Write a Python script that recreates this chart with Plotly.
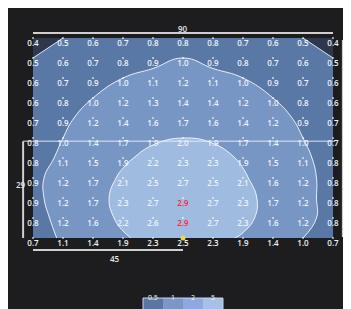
import numpy as np
import plotly.graph_objects as go

# Measurement grid (metres) and illuminance values (rows from top y=60 to bottom y=0)
grid_x = [0, 9, 18, 27, 36, 45, 54, 63, 72, 81, 90]
grid_y = [60, 54, 48, 42, 36, 30, 24, 18, 12, 6, 0]
lux = [
    [0.4, 0.5, 0.6, 0.7, 0.8, 0.8, 0.8, 0.7, 0.6, 0.5, 0.4],
    [0.5, 0.6, 0.7, 0.8, 0.9, 1.0, 0.9, 0.8, 0.7, 0.6, 0.5],
    [0.6, 0.7, 0.9, 1.0, 1.1, 1.2, 1.1, 1.0, 0.9, 0.7, 0.6],
    [0.6, 0.8, 1.0, 1.2, 1.3, 1.4, 1.4, 1.2, 1.0, 0.8, 0.6],
    [0.7, 0.9, 1.2, 1.4, 1.6, 1.7, 1.6, 1.4, 1.2, 0.9, 0.7],
    [0.8, 1.0, 1.4, 1.7, 1.9, 2.0, 1.9, 1.7, 1.4, 1.0, 0.7],
    [0.8, 1.1, 1.5, 1.9, 2.2, 2.3, 2.3, 1.9, 1.5, 1.1, 0.8],
    [0.9, 1.2, 1.7, 2.1, 2.5, 2.7, 2.5, 2.1, 1.6, 1.2, 0.8],
    [0.9, 1.2, 1.7, 2.3, 2.7, 2.9, 2.7, 2.3, 1.7, 1.2, 0.8],
    [0.8, 1.2, 1.6, 2.2, 2.6, 2.9, 2.7, 2.3, 1.6, 1.2, 0.8],
    [0.7, 1.1, 1.4, 1.9, 2.3, 2.5, 2.3, 1.9, 1.4, 1.0, 0.7],
]
contour_levels = [0.5, 1, 2]
legend_labels = ["0.5", "1", "2", "5"]
band_colors = ["#2d384c", "#5a78a6", "#7896c4", "#a0bbe0"]
legend_colors = ["#5a76a2", "#7a97c6", "#8caae0", "#a6c0ea"]

# dimension annotations
width_m = 90
depth_m = 60
mark_y = 29
mark_x = 45

z = np.array(lux)
zlog = np.log2(z)
lv = np.log2(contour_levels)

fig = go.Figure()
fig.add_trace(go.Contour(
    x=grid_x, y=grid_y, z=zlog,
    contours=dict(start=lv[0], end=lv[-1], size=lv[1] - lv[0],
                  coloring="fill", showlines=True),
    colorscale=[[0, band_colors[0]], [1/3, band_colors[1]],
                [2/3, band_colors[2]], [1, band_colors[3]]],
    line=dict(color="rgba(255,255,255,0.85)", width=1, smoothing=1.3),
    showscale=False, hoverinfo="skip",
))

zmax = z.max()
xs, ys, txt, cols = [], [], [], []
for i, yy in enumerate(grid_y):
    for j, xx in enumerate(grid_x):
        xs.append(xx); ys.append(yy)
        txt.append(f"{lux[i][j]:.1f}")
        cols.append("#ff2436" if lux[i][j] == zmax else "#eef3fb")

fig.add_trace(go.Scatter(
    x=xs, y=ys, mode="markers+text", text=txt,
    textposition="bottom center",
    textfont=dict(color=cols, size=8, family="Open Sans", weight=600),
    marker=dict(size=2, color="rgba(255,255,255,0.7)"),
    cliponaxis=False, hoverinfo="skip", showlegend=False,
))

fig.add_trace(go.Scatter(
    x=[mark_x], y=[0], mode="markers",
    marker=dict(size=5, color="#e8d84a"),
    cliponaxis=False, hoverinfo="skip", showlegend=False,
))

shapes = []
annos = []
dim_col = "#cfcfcf"
dim_font = dict(color="#e8e8e8", size=8, family="Open Sans", weight=600)
# horizontal marker line at y=29
shapes.append(dict(type="line", xref="paper", yref="paper",
                   x0=-0.033, x1=1.007, y0=mark_y / depth_m, y1=mark_y / depth_m,
                   line=dict(color="rgba(235,240,250,0.6)", width=1.5)))
# top dimension (90)
shapes.append(dict(type="line", xref="paper", yref="paper",
                   x0=0, x1=1, y0=1.025, y1=1.025, line=dict(color=dim_col, width=2)))
annos.append(dict(x=0.5, y=1.025, xref="paper", yref="paper", text=str(width_m),
                  showarrow=False, yanchor="bottom", yshift=-3, font=dim_font))
# right dimension (60)
shapes.append(dict(type="line", xref="paper", yref="paper",
                   x0=1.033, x1=1.033, y0=0.005, y1=0.99, line=dict(color=dim_col, width=2)))
annos.append(dict(x=1.045, y=0.48, xref="paper", yref="paper", text=str(depth_m),
                  showarrow=False, xanchor="left", font=dim_font))
# left dimension (29)
shapes.append(dict(type="line", xref="paper", yref="paper",
                   x0=-0.033, x1=-0.033, y0=0, y1=mark_y / depth_m,
                   line=dict(color=dim_col, width=2)))
annos.append(dict(x=-0.062, y=0.23, xref="paper", yref="paper", text=str(mark_y),
                  showarrow=False, font=dim_font))
# bottom dimension (45)
shapes.append(dict(type="line", xref="paper", yref="paper",
                   x0=0, x1=mark_x / width_m, y0=-0.06, y1=-0.06,
                   line=dict(color=dim_col, width=2)))
annos.append(dict(x=0.25, y=-0.06, xref="paper", yref="paper", text=str(mark_x),
                  showarrow=False, yanchor="top", yshift=-1, font=dim_font))

# colour legend at the bottom
lx0, bw = (143 - 33) / 300, 20 / 300
ly0, ly1 = (238 - 312) / 200, (238 - 298) / 200
for k, (lab, c) in enumerate(zip(legend_labels, legend_colors)):
    shapes.append(dict(type="rect", xref="paper", yref="paper",
                       x0=lx0 + k * bw, x1=lx0 + (k + 1) * bw, y0=ly0, y1=ly1,
                       fillcolor=c, line=dict(width=0)))
    annos.append(dict(x=lx0 + (k + 0.5) * bw, y=(238 - 304) / 200, xref="paper", yref="paper",
                      text=lab, showarrow=False,
                      font=dict(color="#f2f5fb", size=7, family="Open Sans")))
shapes.append(dict(type="rect", xref="paper", yref="paper",
                   x0=lx0, x1=lx0 + 4 * bw, y0=ly0, y1=ly1,
                   line=dict(color="#c8d4e8", width=1)))

fig.update_layout(
    width=351, height=309,
    margin=dict(l=25, r=26, t=30, b=79),
    paper_bgcolor="#1d1d1f", plot_bgcolor="rgba(0,0,0,0)",
    xaxis=dict(range=[0, width_m], visible=False, fixedrange=True),
    yaxis=dict(range=[0, depth_m], visible=False, fixedrange=True),
    shapes=shapes, annotations=annos, showlegend=False,
)
fig.write_html("out.html")
